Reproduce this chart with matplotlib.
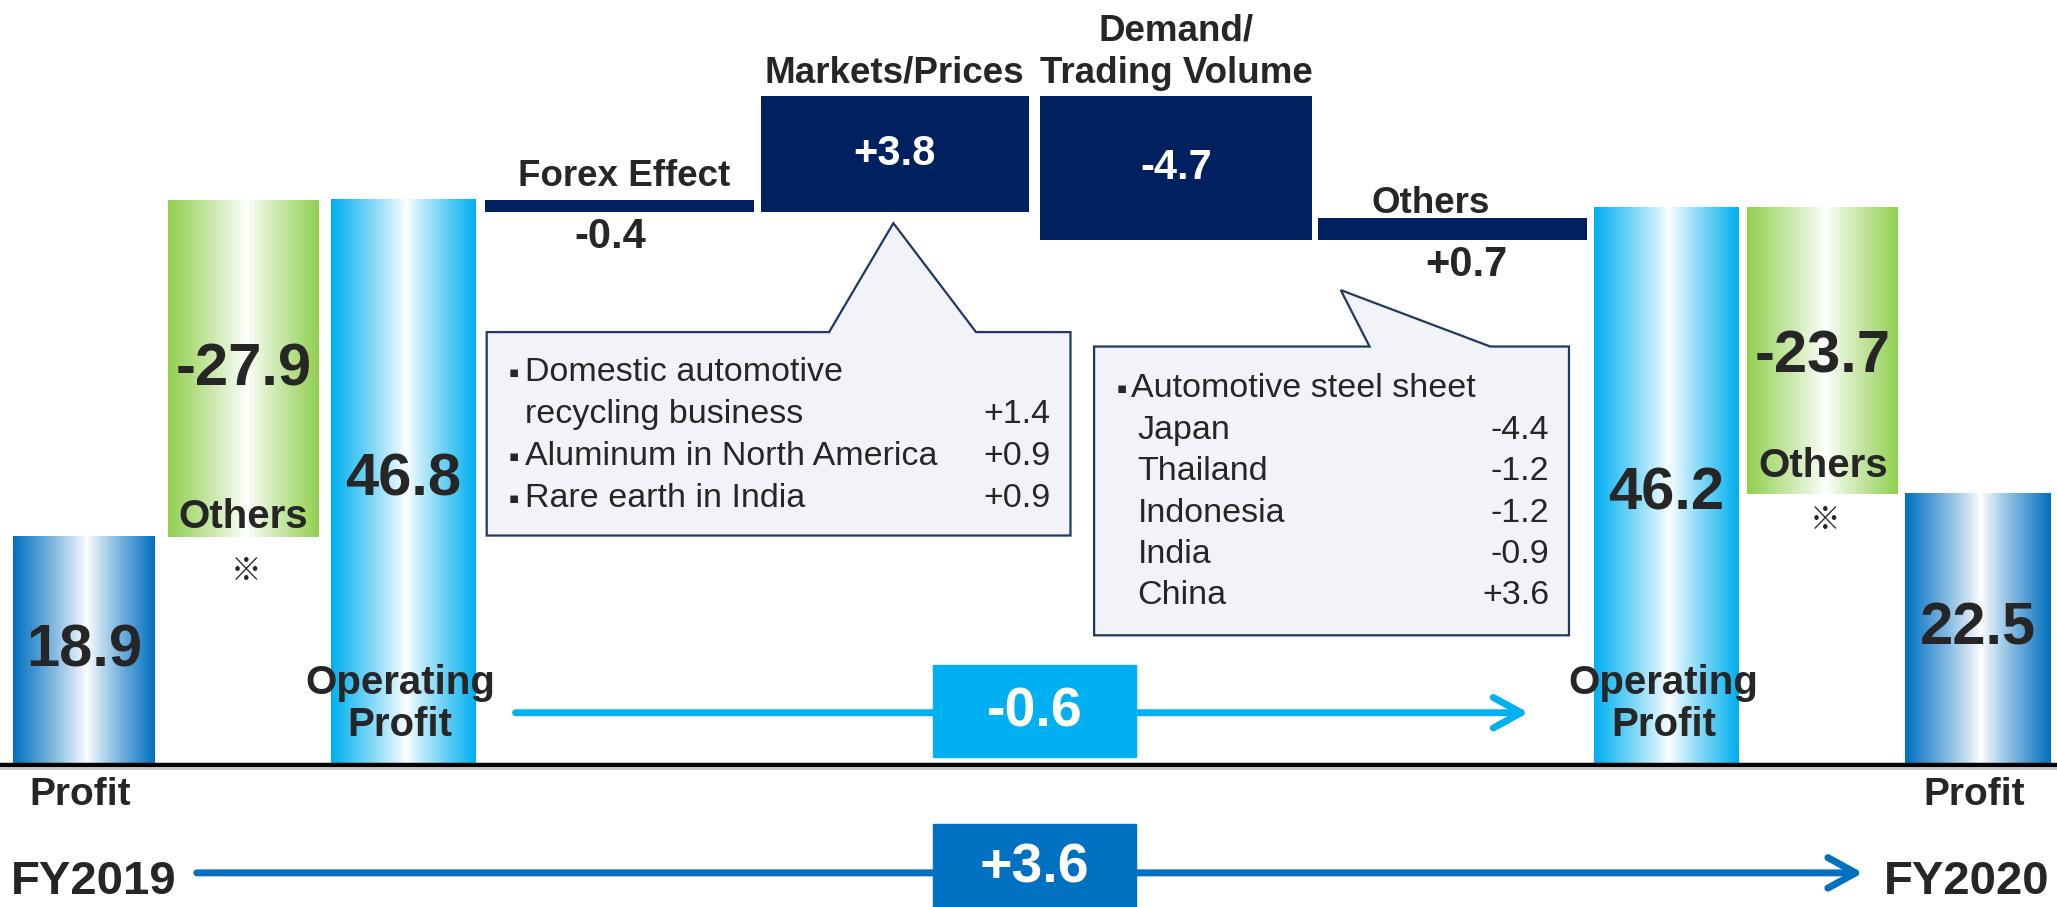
import numpy as np
import matplotlib.pyplot as plt
from matplotlib.patches import Polygon, Rectangle
from matplotlib.colors import to_rgb

plt.rcParams['font.family'] = ['Liberation Sans', 'Noto Sans CJK JP', 'DejaVu Sans']

# values (100 million yen)
years = ['FY2019', 'FY2020']
profit = [18.9, 22.5]
operating_profit = [46.8, 46.2]
others = [-27.9, -23.7]

step_names = ['Forex Effect', 'Markets/Prices', 'Demand/\nTrading Volume', 'Others']
step_values = [-0.4, 3.8, -4.7, 0.7]

markets_items = ['Domestic automotive\nrecycling business', 'Aluminum in North America', 'Rare earth in India']
markets_values = [1.4, 0.9, 0.9]
demand_title = 'Automotive steel sheet'
demand_items = ['Japan', 'Thailand', 'Indonesia', 'India', 'China']
demand_values = [-4.4, -1.2, -1.2, -0.9, 3.6]

TXT = '#262626'
NAVY = '#002060'
CYAN = '#00B0F0'
BLUE = '#0070C0'
GREEN = '#92D050'

W, H = 1568, 691       # layout grid
BASE = 583             # baseline row on the grid
K = 9.2                # grid px per unit for the totals
A, M = 152.4, 23.25    # row of 46.8 and px per unit for the step bars

fig = plt.figure(figsize=(20.57, 9.07), dpi=100)
ax = fig.add_axes([0, 0, 1, 1])
mx = fig.add_axes([0, 0, 1, 1])
ov = fig.add_axes([0, 0, 1, 1])
for a in (ax, mx, ov):
    a.axis('off')
    a.set_facecolor('none')


def gradient_fill(axis, patches, color, center=0.52):
    c = np.array(to_rgb(color))
    u = np.linspace(0, 1, 300)
    t = np.where(u < center, (center - u) / center, (u - center) / (1 - center))
    t = np.clip(t, 0, 1) ** 0.9
    img = (1 - t)[:, None] * np.ones(3) + t[:, None] * c
    img = img[None, :, :]
    for p in patches:
        x0, y0, w, h = p.get_x(), p.get_y(), p.get_width(), p.get_height()
        axis.imshow(img, extent=[x0, x0 + w, y0, y0 + h], aspect='auto',
                    interpolation='bilinear', zorder=2)


# totals: profit, others, operating profit
x_profit, w_profit = [64, 1507.5], [108, 111]
x_others, w_others = [185.5, 1389.5], [115, 115]
x_op, w_op = [307, 1270], [110, 110]

b_profit = ax.bar(x_profit, profit, width=w_profit, color='none')
b_others = ax.bar(x_others, [-o for o in others], width=w_others,
                  bottom=[p + o for p, o in zip(operating_profit, others)], color='none')
b_op = ax.bar(x_op, operating_profit, width=w_op, color='none')
gradient_fill(ax, b_profit, BLUE)
gradient_fill(ax, b_others, GREEN)
gradient_fill(ax, b_op, CYAN)
ax.set_xlim(0, W)
ax.set_ylim(-(H - BASE) / K, BASE / K)

# step bars between the two operating profits
levels = operating_profit[0] + np.cumsum([0] + step_values)
bottoms = np.minimum(levels[:-1], levels[1:])
heights = np.abs(step_values)
x_steps = [472.5, 682, 896.5, 1107.5]
w_steps = [205, 204, 207, 205]
b_steps = mx.bar(x_steps, heights, bottom=bottoms, width=w_steps, color=NAVY)
mx.set_xlim(0, W)
mx.set_ylim(operating_profit[0] - (H - A) / M, operating_profit[0] + A / M)

label_dx = [3, 0, 0, -17]
label_dy = [4, 4, 4, -2]
value_dx = [-7, 0, 0, 10]
for bar, name, v, ldx, ldy, vdx in zip(b_steps, step_names, step_values, label_dx, label_dy, value_dx):
    xc = bar.get_x() + bar.get_width() / 2
    top = bar.get_y() + bar.get_height()
    mx.annotate(name, (xc, top), xytext=(ldx * 1.31 * 0.72, ldy), textcoords='offset points',
                ha='center', va='bottom', fontsize=26.5, fontweight='bold', color=TXT,
                linespacing=1.25)
    if bar.get_height() > 1.5:
        mx.text(xc, bar.get_y() + bar.get_height() / 2, f'{v:+.1f}', ha='center', va='center',
                fontsize=30, fontweight='bold', color='white')
    else:
        mx.annotate(f'{v:+.1f}', (xc, bar.get_y()), xytext=(vdx * 1.31 * 0.72, -18),
                    textcoords='offset points', ha='center', va='center',
                    fontsize=30, fontweight='bold', color=TXT)

# overlay in grid coordinates
ov.set_xlim(0, W)
ov.set_ylim(H, 0)

ov.plot([0, W], [586, 586], color='#C8C8C8', lw=1.5, zorder=1)
ov.plot([0, W], [583, 583], color='black', lw=3.2, zorder=2)

bold = dict(fontweight='bold', color=TXT, ha='center', va='center')
for x, y, v in zip(x_profit, [496, 479], profit):
    ov.text(x, y, f'{v:.1f}', fontsize=43, **bold)
for x, y, v in zip(x_op, [366, 376], operating_profit):
    ov.text(x, y, f'{v:.1f}', fontsize=43, **bold)
for x in x_op:
    ov.text(x - 2, 520, 'Operating', fontsize=29, **bold)
    ov.text(x - 2, 552, 'Profit', fontsize=29, **bold)
for x, y, ys, v in zip(x_others, [282, 272], [394, 355], others):
    ov.text(x, y, f'{v:.1f}', fontsize=43, **bold)
    ov.text(x, ys, 'Others', fontsize=29, **bold)
    ov.text(x + 2, ys + 42, '※', fontsize=22, **bold)

ov.text(61, 606, 'Profit', fontsize=28, **bold)
ov.text(1505, 606, 'Profit', fontsize=28, **bold)
ov.text(8, 672, years[0], fontsize=34, fontweight='bold', color=TXT, ha='left', va='center')
ov.text(1562, 672, years[1], fontsize=34, fontweight='bold', color=TXT, ha='right', va='center')

# change arrows
op_change = operating_profit[1] - operating_profit[0]
profit_change = profit[1] - profit[0]
ov.annotate('', xy=(1165, 543), xytext=(393, 543),
            arrowprops=dict(arrowstyle='->,head_length=1.0,head_width=0.55', lw=5,
                            color=CYAN, mutation_scale=20, shrinkA=0, shrinkB=0))
ov.add_patch(Rectangle((711, 507), 155, 70, color=CYAN, zorder=3))
ov.text(788.5, 543, f'{op_change:+.1f}', fontsize=40, fontweight='bold', color='white',
        ha='center', va='center', zorder=4)

ov.annotate('', xy=(1420, 665), xytext=(150, 665),
            arrowprops=dict(arrowstyle='->,head_length=1.0,head_width=0.55', lw=5,
                            color=BLUE, mutation_scale=20, shrinkA=0, shrinkB=0))
ov.add_patch(Rectangle((711, 628), 155, 70, color=BLUE, zorder=3))
ov.text(788.5, 662, f'{profit_change:+.1f}', fontsize=40, fontweight='bold', color='white',
        ha='center', va='center', zorder=4)

# callouts
box_kw = dict(facecolor='#F2F3F8', edgecolor='#1F3864', lw=1.6, zorder=3)
ov.add_patch(Polygon([(371, 253), (632, 253), (681, 170), (744, 253), (816, 253),
                      (816, 408), (371, 408)], closed=True, **box_kw))
ov.add_patch(Polygon([(834, 264), (1044, 264), (1022, 221), (1136, 264), (1196, 264),
                      (1196, 484), (834, 484)], closed=True, **box_kw))

small = dict(fontsize=24.5, color=TXT, va='center', zorder=4)
bullet = dict(fontsize=11, color=TXT, va='center', ha='center', zorder=4,
              family=['DejaVu Sans'])
y = 284
for item, v in zip(markets_items, markets_values):
    lines = item.split('\n')
    ov.text(392, y, '▪', **bullet)
    for i, line in enumerate(lines):
        ov.text(400, y, line, ha='left', **small)
        if i < len(lines) - 1:
            y += 32
    ov.text(801, y, f'{v:+.1f}', ha='right', **small)
    y += 32

ov.text(855, 296, '▪', **bullet)
ov.text(862, 296, demand_title, ha='left', **small)
for i, (item, v) in enumerate(zip(demand_items, demand_values)):
    yy = 328 + i * 31.5
    ov.text(867, yy, item, ha='left', **small)
    ov.text(1181, yy, f'{v:+.1f}' if v > 0 else f'{v:.1f}', ha='right', **small)

fig.savefig('out.png', dpi=100)
